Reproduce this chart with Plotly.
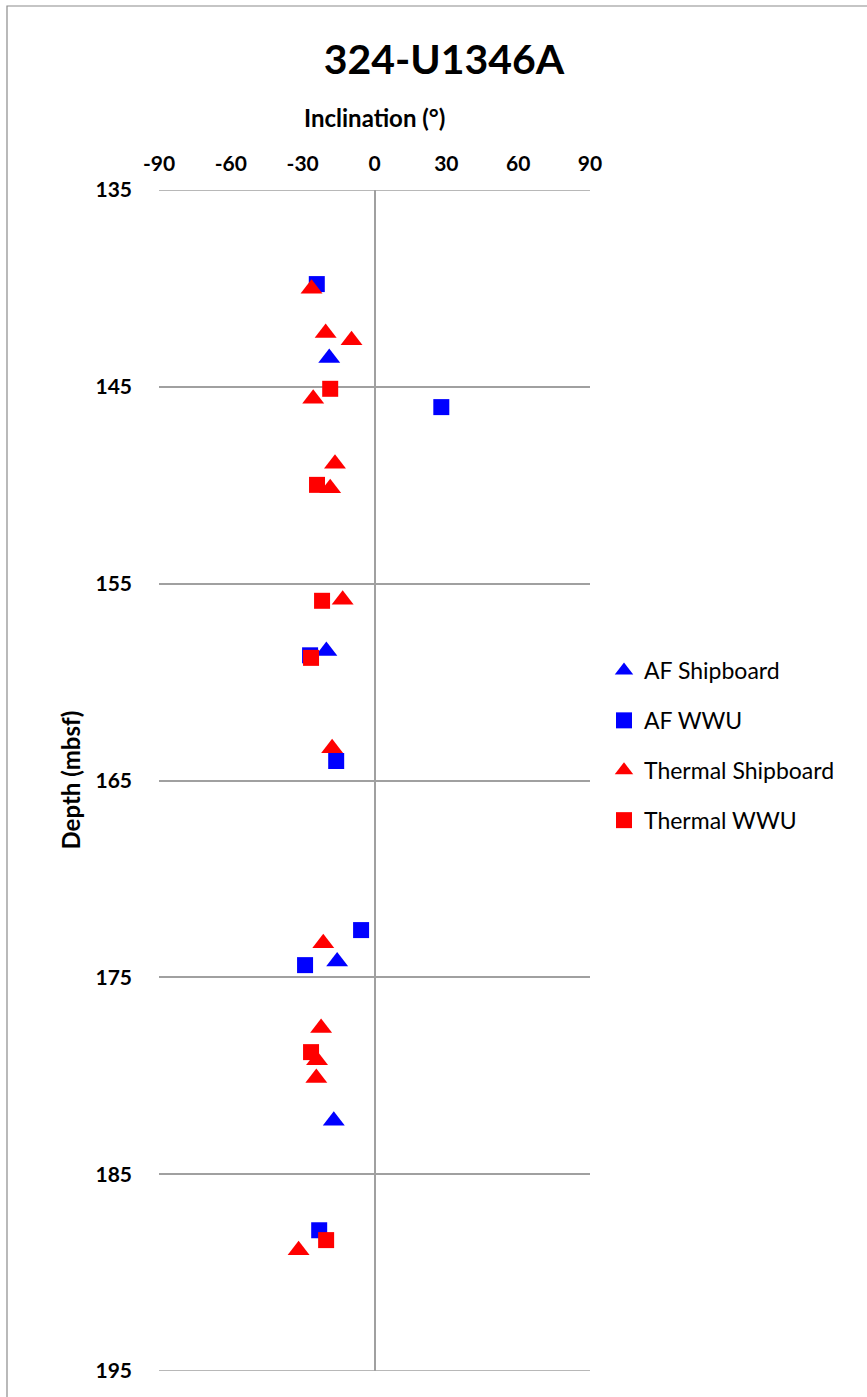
import plotly.graph_objects as go

# Inclination (degrees) vs depth (mbsf) for hole 324-U1346A
af_ship_incl = [-18.9, -20.1, -15.6, -17.0]
af_ship_depth = [143.53, 158.42, 174.19, 182.28]

af_wwu_incl = [-24.1, 27.9, -26.9, -16.0, -5.6, -29.0, -23.1]
af_wwu_depth = [139.78, 146.03, 158.64, 164.01, 172.60, 174.38, 187.85]

th_ship_incl = [-26.3, -20.4, -9.6, -25.6, -16.5, -18.5, -13.3, -17.7,
                -21.4, -22.3, -24.0, -24.3, -31.7]
th_ship_depth = [140.02, 142.26, 142.63, 145.61, 148.91, 150.15, 155.82, 163.36,
                 173.27, 177.57, 179.21, 180.11, 188.87]

th_wwu_incl = [-18.5, -24.0, -21.9, -26.5, -26.5, -20.2]
th_wwu_depth = [145.10, 149.98, 155.87, 158.77, 178.80, 188.35]

x_ticks = [-90, -60, -30, 0, 30, 60, 90]
y_ticks = [135, 145, 155, 165, 175, 185, 195]

FONT = "Lato"
BLUE = "#0000FF"
RED = "#FF0000"
GRID = "#A0A0A0"

series = [
    ("AF Shipboard", af_ship_incl, af_ship_depth, "triangle-up", BLUE, 19),
    ("AF WWU", af_wwu_incl, af_wwu_depth, "square", BLUE, 16),
    ("Thermal Shipboard", th_ship_incl, th_ship_depth, "triangle-up", RED, 19),
    ("Thermal WWU", th_wwu_incl, th_wwu_depth, "square", RED, 16),
]

fig = go.Figure()
for i, (name, xs, ys, sym, col, sz) in enumerate(series):
    fig.add_trace(go.Scatter(
        x=xs, y=ys, mode="markers", name=name, legendgroup=str(i),
        marker=dict(symbol=sym, color=col, size=sz, line=dict(width=0)),
    ))

W, H = 867, 1397
L, R, T, B = 159, 277, 190, 26
pw, ph = W - L - R, H - T - B

def px_x(p):
    return (p - L) / pw

def px_y(p):
    return (H - B - p) / ph

# horizontal rules at the ends of the depth range (the grid skips range edges)
edge_rules = [
    dict(type="line", xref="paper", yref="y", x0=0, x1=1, y0=d, y1=d,
         line=dict(color=GRID, width=1.5), layer="below")
    for d in (y_ticks[0], y_ticks[-1])
]

fig.update_layout(
    width=W, height=H,
    margin=dict(l=L, r=R, t=T, b=B),
    paper_bgcolor="white", plot_bgcolor="white",
    font=dict(family=FONT, color="black"),
    title=dict(text="<b>324-U1346A</b>", x=444 / W, xref="container", xanchor="center",
               y=1 - 60 / H, yref="container", yanchor="middle",
               font=dict(size=41, family=FONT, color="black")),
    showlegend=True,
    legend=dict(x=px_x(604), xanchor="left", y=px_y(649), yanchor="top",
                font=dict(size=23, family=FONT, color="black"),
                tracegroupgap=17, bgcolor="rgba(0,0,0,0)", itemwidth=30),
    xaxis=dict(range=[-90, 90], side="top", tickvals=x_ticks,
               ticktext=[f"<b>{v}</b>" for v in x_ticks],
               tickfont=dict(size=21, family=FONT, color="black"),
               showgrid=False, zeroline=True, zerolinecolor=GRID, zerolinewidth=1.5,
               showline=False, ticks="", ticklabelstandoff=14, fixedrange=True),
    yaxis=dict(range=[195, 135], tickvals=y_ticks,
               ticktext=[f"<b>{v}</b>" for v in y_ticks],
               tickfont=dict(size=21, family=FONT, color="black"),
               showgrid=True, gridcolor=GRID, gridwidth=1.5, zeroline=False,
               showline=False, ticks="", ticklabelstandoff=26, fixedrange=True),
    annotations=[
        dict(text="<b>Inclination (°)</b>", xref="paper", yref="paper",
             x=0.5, y=px_y(117), xanchor="center", yanchor="middle",
             showarrow=False, font=dict(size=24, family=FONT, color="black")),
        dict(text="<b>Depth (mbsf)</b>", xref="paper", yref="paper",
             x=px_x(70), y=0.5, xanchor="center", yanchor="middle", textangle=-90,
             showarrow=False, font=dict(size=24, family=FONT, color="black")),
    ],
    shapes=edge_rules + [
        dict(type="rect", xref="paper", yref="paper",
             x0=px_x(7), x1=px_x(W + 20), y0=px_y(H + 20), y1=px_y(6),
             line=dict(color="#8C8C8C", width=1.2), fillcolor="rgba(0,0,0,0)",
             layer="below"),
    ],
)

fig.write_html("out.html")
